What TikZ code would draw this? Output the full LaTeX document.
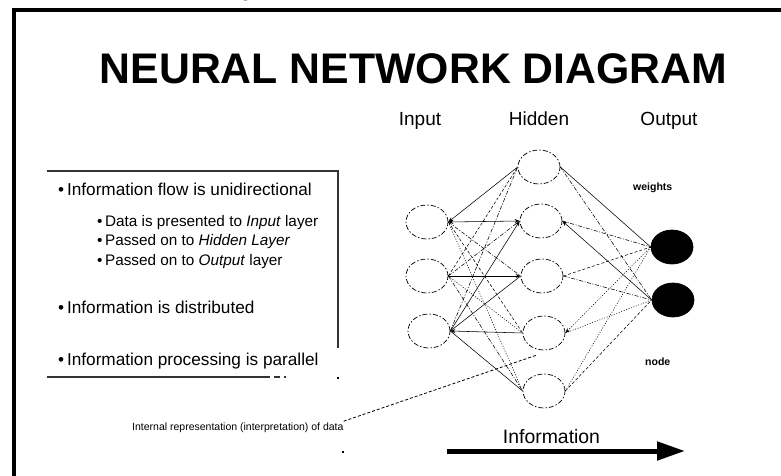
\documentclass[tikz,border=0pt]{standalone}
\usepackage{fontspec}
\setmainfont{Liberation Sans}
\newfontfamily\serifg{Liberation Serif}
\usetikzlibrary{shapes.geometric,arrows.meta}
\tikzset{
  neuron/.style={ellipse, draw, minimum width=42pt, minimum height=34pt, inner sep=0pt, line width=0.7pt, dash pattern=on 5pt off 2pt on 1.5pt off 2pt},
  outneuron/.style={ellipse, draw, fill=black, minimum width=42pt, minimum height=34pt, inner sep=0pt, line width=0.7pt},
  conn/.style={line width=0.55pt},
  cdash/.style={conn, dash pattern=on 3pt off 2pt},
  cdot/.style={conn, dash pattern=on 1pt off 1.6pt},
  cdashdot/.style={conn, dash pattern=on 4pt off 1.6pt on 1pt off 1.6pt},
  tip/.style={-{Stealth[length=5pt,width=4pt]}},
  rtip/.style={{Stealth[length=5pt,width=4pt]}-},
  bothtip/.style={{Stealth[length=5pt,width=4pt]}-{Stealth[length=5pt,width=4pt]}},
  mainbullet/.style={anchor=base west, inner sep=0pt, font=\fontsize{17.2}{19}\selectfont},
  subbullet/.style={anchor=base west, inner sep=0pt, font=\fontsize{15.3}{17}\selectfont},
  layerlabel/.style={anchor=base, inner sep=0pt, font=\fontsize{19}{21}\selectfont},
  smalllabel/.style={anchor=base west, inner sep=0pt, font=\bfseries\fontsize{10.5}{12}\selectfont},
}
\begin{document}
\begin{tikzpicture}[x=1pt,y=-1pt]
\useasboundingbox (0,0) rectangle (781,476);
% frame
\draw[line width=4.5pt, line join=miter] (14,476) -- (14,10) -- (781,10);
% cut caption fragment
\node[inner sep=0pt, anchor=base, font=\serifg\itshape\fontsize{16}{18}\selectfont] (capg) at (247,-2) {g};
% title
\node[anchor=base, inner sep=0pt, font=\bfseries\fontsize{42.8}{46}\selectfont] (title) at (413.5,84) {NEURAL NETWORK DIAGRAM};
% layer labels
\node[layerlabel] (linput) at (420,125) {Input};
\node[layerlabel] (lhidden) at (539,125) {Hidden};
\node[layerlabel] (loutput) at (669,125) {Output};
% text box
\draw[line width=1.6pt, black!80] (47,171) -- (338,171) -- (338,348);
\draw[line width=1.6pt, black!80] (47,377) -- (270,377);
\draw[line width=1.2pt, black!80] (274,377) -- (280,377) (284,377) -- (286,377);
\fill (337,377) rectangle (339,379);
\node[mainbullet] (b1) at (58,195) {•\,Information flow is unidirectional};
\node[subbullet] (s1) at (97,226) {•\,Data is presented to \textit{Input} layer};
\node[subbullet] (s2) at (97,245.5) {•\,Passed on to \textit{Hidden Layer}};
\node[subbullet] (s3) at (97,265) {•\,Passed on to \textit{Output} layer};
\node[mainbullet] (b2) at (58,313) {•\,Information is distributed};
\node[mainbullet] (b3) at (58,365) {•\,Information processing is parallel};
% neurons
\node[neuron] (i1) at (427,222) {};
\node[neuron] (i2) at (427,276) {};
\node[neuron] (i3) at (429,331) {};
\node[neuron] (h1) at (539,167) {};
\node[neuron] (h2) at (541,221) {};
\node[neuron] (h3) at (542,276) {};
\node[neuron] (h4) at (544,333) {};
\node[neuron] (h5) at (544,391) {};
\node[outneuron] (o1) at (672,247) {};
\node[outneuron] (o2) at (673,300) {};
% input - hidden
\draw[conn, rtip] (i1.east) -- (h1.west);
\draw[conn, bothtip] (i1.east) -- (h2.west);
\draw[cdashdot] (i1.east) -- (h3.west);
\draw[cdash] (i1.east) -- (h4.west);
\draw[cdot] (i1.east) -- (h5.west);
\draw[cdash] (i2.east) -- (h1.west);
\draw[cdashdot] (i2.east) -- (h2.west);
\draw[conn, tip] (i2.east) -- (h3.west);
\draw[cdot] (i2.east) -- (h4.west);
\draw[cdashdot] (i2.east) -- (h5.west);
\draw[cdashdot] (i3.east) -- (h1.west);
\draw[conn, tip] (i3.east) -- (h2.west);
\draw[conn] (i3.east) -- (h3.west);
\draw[conn, rtip] (i3.east) -- (h4.west);
\draw[conn] (i3.east) -- (h5.west);
% hidden - output
\draw[conn] (h1.east) -- (o1.west);
\draw[cdashdot] (h1.east) -- (o2.west);
\draw[cdashdot] (h2.east) -- (o1.west);
\draw[conn, rtip] (h2.east) -- (o2.west);
\draw[cdash] (h3.east) -- (o1.west);
\draw[cdashdot] (h3.east) -- (o2.west);
\draw[cdot, rtip] (h4.east) -- (o1.west);
\draw[cdot] (h4.east) -- (o2.west);
\draw[cdot] (h5.east) -- (o1.west);
\draw[cdash] (h5.east) -- (o2.west);
% labels
\node[smalllabel] (weights) at (633,190) {weights};
\node[smalllabel] (nodelbl) at (645,365) {node};
% footnote and pointer
\node[anchor=base west, inner sep=0pt, font=\fontsize{10.5}{12}\selectfont] (fn) at (132,430) {Internal representation (interpretation) of data};
\coordinate (ptr) at (537,355);
\draw[cdash, line width=0.8pt] (fn.north east) ++(0,-1) -- (ptr);
\fill (342,451) rectangle (344,453);
% information arrow
\node[anchor=base, inner sep=0pt, font=\fontsize{19.4}{21}\selectfont] (info) at (551.5,443) {Information};
\coordinate (arrS) at (447,451);
\coordinate (arrE) at (685,451);
\draw[line width=5pt, -{Triangle[length=28pt,width=18pt]}] (arrS) -- (arrE);
\end{tikzpicture}
\end{document}
